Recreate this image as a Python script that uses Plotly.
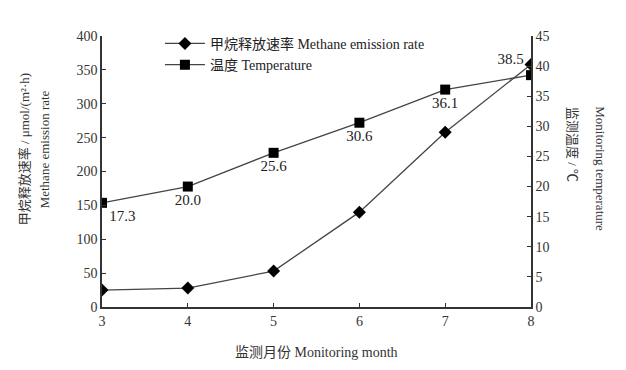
import plotly.graph_objects as go

months = [3, 4, 5, 6, 7, 8]
methane = [25, 28, 53, 140, 258, 358]
temperature = [17.3, 20.0, 25.6, 30.6, 36.1, 38.5]
temp_labels = ["17.3", "20.0", "25.6", "30.6", "36.1", "38.5"]
temp_label_pos = ["bottom right", "bottom center", "bottom center", "bottom center", "bottom center", "top left"]

FONT = "Liberation Serif, Noto Sans CJK SC, serif"

fig = go.Figure()
fig.add_trace(go.Scatter(
    x=months, y=methane, mode="lines+markers",
    name="甲烷释放速率 Methane emission rate",
    line=dict(color="#444444", width=1.3),
    marker=dict(symbol="diamond", size=10, color="black"),
))
fig.add_trace(go.Scatter(
    x=months, y=temperature, mode="lines+markers+text", yaxis="y2",
    name="温度 Temperature",
    text=temp_labels, textposition=temp_label_pos,
    textfont=dict(family=FONT, size=15, color="#222222"),
    line=dict(color="#444444", width=1.3),
    marker=dict(symbol="square", size=10, color="black"),
))

axis_common = dict(
    showline=True, linecolor="#333333", linewidth=1.5,
    ticks="inside", ticklen=4, tickcolor="#333333",
    showgrid=False, zeroline=False,
    tickfont=dict(family=FONT, size=14, color="#333333"),
)

fig.update_layout(
    width=626, height=370,
    margin=dict(l=94, r=103, t=28, b=71),
    paper_bgcolor="white", plot_bgcolor="white",
    font=dict(family=FONT, color="#333333"),
    showlegend=True,
    legend=dict(x=0.135, y=1.03, xanchor="left", yanchor="top",
                bgcolor="rgba(0,0,0,0)", font=dict(family=FONT, size=14, color="#222222"),
                itemwidth=40, tracegroupgap=0),
    xaxis=dict(range=[3, 8], tickvals=months, **axis_common),
    yaxis=dict(range=[0, 400], dtick=50, **axis_common),
    yaxis2=dict(range=[0, 45], dtick=5, overlaying="y", side="right", **axis_common),
    annotations=[
        dict(text="监测月份 Monitoring month", xref="paper", yref="paper", x=0.5, y=0,
             yshift=-55, showarrow=False, font=dict(family=FONT, size=14, color="#333333")),
        dict(text="甲烷释放速率 / μmol/(m²·h)", xref="paper", yref="paper", x=0, y=0.58,
             xshift=-87, textangle=-90, showarrow=False,
             font=dict(family=FONT, size=13, color="#333333")),
        dict(text="Methane emission rate", xref="paper", yref="paper", x=0, y=0.58,
             xshift=-67, textangle=-90, showarrow=False,
             font=dict(family=FONT, size=13, color="#333333")),
        dict(text="监测温度 / ℃", xref="paper", yref="paper", x=1, y=0.6,
             xshift=51, textangle=90, showarrow=False,
             font=dict(family=FONT, size=13, color="#333333")),
        dict(text="Monitoring temperature", xref="paper", yref="paper", x=1, y=0.51,
             xshift=79, textangle=90, showarrow=False,
             font=dict(family=FONT, size=13, color="#333333")),
    ],
)

fig.write_html("out.html")
